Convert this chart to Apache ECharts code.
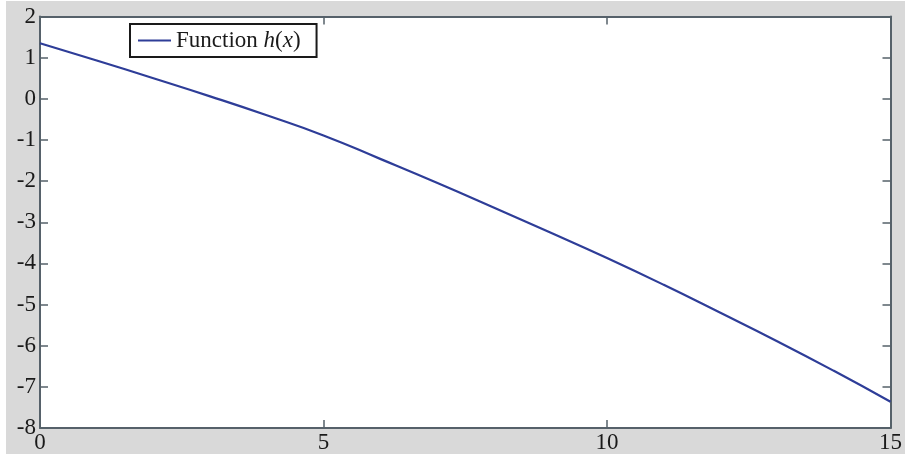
<!DOCTYPE html>
<html>
<head>
<meta charset="utf-8">
<script src="https://cdn.jsdelivr.net/npm/echarts@6/dist/echarts.min.js"></script>
<style>html,body{margin:0;padding:0;background:#fff}#c{width:905px;height:456px}</style>
</head>
<body>
<div id="c"></div>
<script>
var xValues = [0, 1, 2, 3, 4, 5, 6, 7, 8, 9, 10, 11, 12, 13, 14, 15];
var hValues = [1.35, 0.93, 0.50, 0.06, -0.40, -0.89, -1.46, -2.04, -2.64, -3.25, -3.87, -4.52, -5.20, -5.89, -6.61, -7.36];
var seriesName = 'Function h(x)';

var data = xValues.map(function (x, i) { return [x, hValues[i]]; });
var axisColor = '#56616a';
var font = 'Liberation Serif';

var chart = echarts.init(document.getElementById('c'), null, {renderer: 'canvas'});
chart.setOption({
  animation: false,
  backgroundColor: '#ffffff',
  graphic: [{
    type: 'rect', left: 6, top: 1, z: -100,
    shape: {width: 899, height: 453},
    style: {fill: '#d9d9d9'}
  }],
  grid: {left: 40, top: 16.5, right: 12, bottom: 28, show: true, backgroundColor: '#ffffff', borderWidth: 0},
  legend: {
    data: [seriesName],
    left: 130, top: 24,
    orient: 'vertical',
    backgroundColor: '#ffffff',
    borderColor: '#1a1a1a', borderWidth: 2,
    padding: [5, 16, 5, 8],
    itemWidth: 33, itemHeight: 2, itemGap: 0,
    icon: 'rect',
    formatter: function () { return '{n|Function }{i|h}{n|(}{i|x}{n|)}'; },
    textStyle: {
      fontFamily: font, fontSize: 23, color: '#1a1a1a',
      rich: {
        n: {fontFamily: font, fontSize: 23, color: '#1a1a1a'},
        i: {fontFamily: font, fontSize: 23, fontStyle: 'italic', color: '#1a1a1a'}
      }
    }
  },
  xAxis: [{
    type: 'value', min: 0, max: 15, interval: 5, position: 'bottom',
    axisLine: {show: true, onZero: false, lineStyle: {color: axisColor, width: 2}},
    axisTick: {show: true, inside: true, length: 8, lineStyle: {color: axisColor, width: 1.5}},
    axisLabel: {fontFamily: font, fontSize: 23, color: '#1a1a1a', margin: 3},
    splitLine: {show: false}
  }, {
    type: 'value', min: 0, max: 15, interval: 5, position: 'top',
    axisLine: {show: true, onZero: false, lineStyle: {color: axisColor, width: 2}},
    axisTick: {show: true, inside: true, length: 8, lineStyle: {color: axisColor, width: 1.5}},
    axisLabel: {show: false},
    splitLine: {show: false}
  }],
  yAxis: [{
    type: 'value', min: -8, max: 2, interval: 1, position: 'left',
    axisLine: {show: true, onZero: false, lineStyle: {color: axisColor, width: 2}},
    axisTick: {show: true, inside: true, length: 8, lineStyle: {color: axisColor, width: 1.5}},
    axisLabel: {fontFamily: font, fontSize: 23, color: '#1a1a1a', margin: 4},
    splitLine: {show: false}
  }, {
    type: 'value', min: -8, max: 2, interval: 1, position: 'right',
    axisLine: {show: true, onZero: false, lineStyle: {color: axisColor, width: 2}},
    axisTick: {show: true, inside: true, length: 8, lineStyle: {color: axisColor, width: 1.5}},
    axisLabel: {show: false},
    splitLine: {show: false}
  }],
  series: [{
    name: seriesName,
    type: 'line',
    data: data,
    smooth: true,
    showSymbol: false,
    lineStyle: {color: '#2e3d98', width: 2.2},
    itemStyle: {color: '#2e3d98'}
  }]
});
</script>
</body>
</html>
